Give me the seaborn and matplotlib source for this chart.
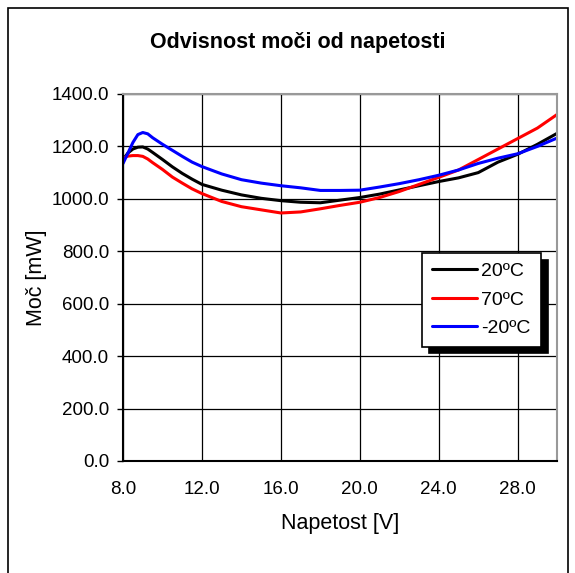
import matplotlib
matplotlib.use("Agg")
import matplotlib.pyplot as plt
import matplotlib.patches as mpatches
import seaborn as sns
import pandas as pd

napetost = [8, 8.25, 8.5, 8.75, 9, 9.25, 9.5, 10, 10.5, 11, 11.5, 12, 13, 14, 15, 16,
            17, 18, 19, 20, 21, 22, 23, 24, 25, 26, 27, 28, 29, 30]
moc_20 = [1150, 1175, 1190, 1197, 1198, 1190, 1177, 1150, 1122, 1097, 1075, 1055, 1033,
          1015, 1002, 993, 987, 985, 995, 1005, 1018, 1034, 1050, 1066, 1080, 1100,
          1140, 1170, 1208, 1250]
moc_70 = [1155, 1163, 1165, 1165, 1162, 1152, 1138, 1112, 1083, 1060, 1038, 1020, 990,
          970, 958, 946, 950, 962, 975, 987, 1005, 1028, 1055, 1082, 1110, 1150,
          1190, 1230, 1270, 1322]
moc_m20 = [1135, 1175, 1215, 1245, 1253, 1248, 1233, 1208, 1185, 1162, 1140, 1123, 1095,
           1073, 1060, 1050, 1042, 1032, 1032, 1033, 1045, 1058, 1073, 1090, 1110, 1135,
           1155, 1172, 1200, 1232]
series = ["20ºC", "70ºC", "-20ºC"]
colors = ["#000000", "#ff0000", "#0000ff"]
x_ticks = [8, 12, 16, 20, 24, 28]
y_ticks = [0, 200, 400, 600, 800, 1000, 1200, 1400]

df = pd.concat([
    pd.DataFrame({"x": napetost, "y": v, "s": s})
    for v, s in zip([moc_20, moc_70, moc_m20], series)
])

sns.set_style("white")
plt.rcParams["font.family"] = ["Liberation Sans", "DejaVu Sans"]
plt.rcParams["text.color"] = "black"
plt.rcParams["axes.labelcolor"] = "black"
plt.rcParams["xtick.color"] = "black"
plt.rcParams["ytick.color"] = "black"

fig = plt.figure(figsize=(5.75, 5.73), dpi=100)
ax = fig.add_axes([0.214, 0.1955, 0.755, 0.6405])

sns.lineplot(data=df, x="x", y="y", hue="s", palette=colors, hue_order=series,
             linewidth=2.2, ax=ax, legend=True)
for ln in ax.get_lines():
    ln.set_solid_joinstyle("round")
    ln.set_solid_capstyle("round")

ax.set_xlim(8, 30)
ax.set_ylim(0, 1400)
ax.set_xticks(x_ticks)
ax.set_xticklabels([f"{t:.1f}" for t in x_ticks], fontsize=13.5)
ax.set_yticks(y_ticks)
ax.set_yticklabels([f"{t:.1f}" for t in y_ticks], fontsize=13.5)
ax.grid(True, color="#000000", linewidth=0.9)
ax.set_axisbelow(True)
for side in ["top", "right"]:
    ax.spines[side].set_color("#999999")
    ax.spines[side].set_linewidth(1.5)
for side in ["left", "bottom"]:
    ax.spines[side].set_color("#000000")
    ax.spines[side].set_linewidth(1.5)
ax.tick_params(axis="y", which="both", left=True, length=4, width=1, color="black", pad=6)
ax.tick_params(axis="x", bottom=False, pad=11)

ax.set_xlabel("Napetost [V]", fontsize=15.5, labelpad=11)
ax.set_ylabel("Moč [mW]", fontsize=15.5, labelpad=3)
fig.text(0.517, 0.925, "Odvisnost moči od napetosti", fontsize=15.5,
         fontweight="bold", ha="center", va="center")

leg = ax.legend(loc="upper left", bbox_to_anchor=(0.689, 0.567), borderaxespad=0,
                fancybox=False, frameon=True, edgecolor="black", framealpha=1,
                fontsize=14, handlelength=2.3, handletextpad=0.25, labelspacing=0.55,
                borderpad=0.5,
                shadow={"color": "black", "alpha": 1, "ox": 5, "oy": -5})
leg.get_frame().set_linewidth(1.2)
for h in leg.get_lines():
    h.set_linewidth(2.2)

fig.patches.append(mpatches.Rectangle((8 / 575, -0.01), 560 / 575, 1 - 8 / 573 + 0.01,
                                      transform=fig.transFigure, fill=False,
                                      edgecolor="black", linewidth=1.2))

fig.savefig("out.png", dpi=100)
